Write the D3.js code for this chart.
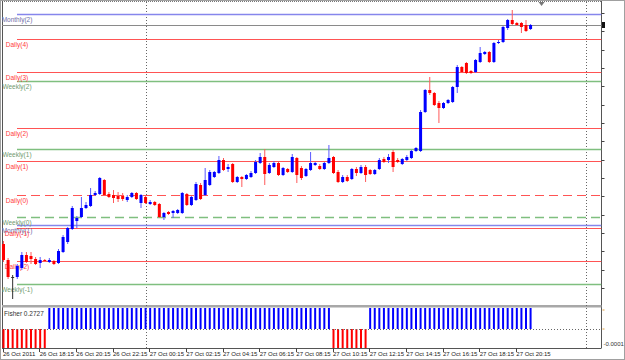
<!DOCTYPE html>
<html>
<head>
<meta charset="utf-8">
<script src="https://cdn.jsdelivr.net/npm/d3@7"></script>
<style>
   body { margin: 0; background: #fff; }
   svg { display: block; font-family: "Liberation Sans", Arial, sans-serif; }
</style>
</head>
<body>
<svg id="chart" width="625" height="360"></svg>
<script>
// 15 minute bars, 26 Oct 2011 16:15 -> 27 Oct 2011 21:00
const opens = [
   1.3958, 1.3942, 1.3925, 1.3925, 1.3934, 1.3947, 1.3946, 1.3943, 1.3939, 1.3942,
   1.3940, 1.3941, 1.3939, 1.3950, 1.3960, 1.3973, 1.3981, 1.3985, 1.3994, 1.3996,
   1.4007, 1.4008, 1.4022, 1.4008, 1.4007, 1.4006, 1.4006, 1.4002, 1.4005, 1.4009,
   1.3999, 1.4005, 1.3998, 1.4000, 1.3998, 1.3985, 1.3990, 1.3989, 1.3989, 1.3989,
   1.4008, 1.3997, 1.4002, 1.4017, 1.4007, 1.4017, 1.4025, 1.4029, 1.4042, 1.4033,
   1.4038, 1.4020, 1.4025, 1.4023, 1.4025, 1.4029, 1.4039, 1.4045, 1.4029, 1.4035,
   1.4039, 1.4027, 1.4033, 1.4030, 1.4044, 1.4034, 1.4026, 1.4032, 1.4037, 1.4036,
   1.4033, 1.4039, 1.4045, 1.4030, 1.4020, 1.4025, 1.4023, 1.4033, 1.4029, 1.4035,
   1.4032, 1.4028, 1.4033, 1.4043, 1.4042, 1.4050, 1.4042, 1.4038, 1.4042, 1.4044,
   1.4051, 1.4051, 1.4090, 1.4112, 1.4109, 1.4099, 1.4094, 1.4099, 1.4100, 1.4115,
   1.4135, 1.4139, 1.4131, 1.4130, 1.4140, 1.4148, 1.4150, 1.4140, 1.4159, 1.4160,
   1.4174, 1.4182, 1.4179, 1.4179, 1.4177, 1.4173
];
const highs = [
   1.3961, 1.3944, 1.3927, 1.3938, 1.3950, 1.3950, 1.3950, 1.3945, 1.3945, 1.3943,
   1.3944, 1.3942, 1.3953, 1.3967, 1.3975, 1.3996, 1.3986, 1.4005, 1.4000, 1.4014,
   1.4011, 1.4025, 1.4023, 1.4010, 1.4012, 1.4010, 1.4009, 1.4007, 1.4010, 1.4010,
   1.4008, 1.4007, 1.4002, 1.4001, 1.3999, 1.3990, 1.3991, 1.3992, 1.3993, 1.4010,
   1.4009, 1.4006, 1.4020, 1.4019, 1.4034, 1.4032, 1.4031, 1.4046, 1.4044, 1.4038,
   1.4039, 1.4026, 1.4026, 1.4028, 1.4031, 1.4042, 1.4049, 1.4053, 1.4039, 1.4041,
   1.4040, 1.4035, 1.4034, 1.4048, 1.4045, 1.4036, 1.4034, 1.4050, 1.4040, 1.4038,
   1.4040, 1.4057, 1.4046, 1.4032, 1.4027, 1.4027, 1.4034, 1.4035, 1.4037, 1.4037,
   1.4033, 1.4033, 1.4044, 1.4045, 1.4048, 1.4052, 1.4044, 1.4044, 1.4047, 1.4052,
   1.4055, 1.4092, 1.4113, 1.4125, 1.4110, 1.4101, 1.4100, 1.4103, 1.4116, 1.4137,
   1.4136, 1.4140, 1.4132, 1.4143, 1.4155, 1.4151, 1.4151, 1.4160, 1.4162, 1.4176,
   1.4183, 1.4192, 1.4180, 1.4180, 1.4182, 1.4178
];
const lows = [
   1.3940, 1.3923, 1.3903, 1.3923, 1.3932, 1.3939, 1.3938, 1.3937, 1.3934, 1.3940,
   1.3939, 1.3937, 1.3938, 1.3949, 1.3958, 1.3972, 1.3974, 1.3984, 1.3993, 1.3995,
   1.4006, 1.4007, 1.4006, 1.4004, 1.3999, 1.4000, 1.4001, 1.4000, 1.4004, 1.4002,
   1.3994, 1.3998, 1.3997, 1.3996, 1.3984, 1.3982, 1.3987, 1.3984, 1.3988, 1.3988,
   1.3996, 1.3996, 1.4001, 1.4002, 1.4006, 1.4016, 1.4024, 1.4028, 1.4031, 1.4030,
   1.4019, 1.4019, 1.4015, 1.4022, 1.4024, 1.4028, 1.4038, 1.4017, 1.4028, 1.4034,
   1.4026, 1.4026, 1.4029, 1.4029, 1.4019, 1.4022, 1.4025, 1.4031, 1.4036, 1.4032,
   1.4032, 1.4038, 1.4028, 1.4019, 1.4019, 1.4020, 1.4022, 1.4026, 1.4028, 1.4020,
   1.4027, 1.4027, 1.4032, 1.4039, 1.4039, 1.4030, 1.4039, 1.4037, 1.4041, 1.4043,
   1.4050, 1.4050, 1.4089, 1.4107, 1.4096, 1.4079, 1.4093, 1.4098, 1.4099, 1.4109,
   1.4129, 1.4128, 1.4128, 1.4129, 1.4139, 1.4147, 1.4139, 1.4139, 1.4158, 1.4159,
   1.4172, 1.4177, 1.4176, 1.4169, 1.4170, 1.4172
];
const closes = [
   1.3942, 1.3925, 1.3925, 1.3936, 1.3947, 1.3940, 1.3943, 1.3938, 1.3942, 1.3941,
   1.3942, 1.3938, 1.3951, 1.3965, 1.3974, 1.3994, 1.3984, 1.3994, 1.3997, 1.4007,
   1.4009, 1.4024, 1.4007, 1.4005, 1.4004, 1.4003, 1.4003, 1.4005, 1.4009, 1.4003,
   1.4007, 1.3999, 1.4000, 1.3997, 1.3985, 1.3989, 1.3988, 1.3991, 1.3992, 1.4009,
   1.3997, 1.4005, 1.4018, 1.4003, 1.4022, 1.4030, 1.4030, 1.4042, 1.4032, 1.4035,
   1.4020, 1.4025, 1.4023, 1.4027, 1.4029, 1.4040, 1.4045, 1.4028, 1.4037, 1.4039,
   1.4027, 1.4034, 1.4030, 1.4045, 1.4027, 1.4024, 1.4033, 1.4039, 1.4039, 1.4033,
   1.4039, 1.4044, 1.4029, 1.4020, 1.4025, 1.4021, 1.4033, 1.4029, 1.4035, 1.4027,
   1.4028, 1.4032, 1.4042, 1.4040, 1.4045, 1.4035, 1.4040, 1.4043, 1.4045, 1.4051,
   1.4054, 1.4090, 1.4112, 1.4109, 1.4097, 1.4094, 1.4099, 1.4102, 1.4115, 1.4135,
   1.4130, 1.4129, 1.4129, 1.4142, 1.4149, 1.4150, 1.4140, 1.4159, 1.4160, 1.4175,
   1.4182, 1.4178, 1.4177, 1.4175, 1.4171, 1.4177
];

// Fisher histogram, one value per bar
const fisher = [
   -1.12, -1.35, -1.48, -1.21, -0.94, -0.77, -0.63, -0.48, -0.31, -0.12,
   0.18, 0.47, 0.83, 1.21, 1.58, 1.86, 2.04, 2.11, 2.19, 2.25,
   2.21, 2.17, 1.94, 1.71, 1.52, 1.33, 1.18, 1.02, 0.91, 0.85,
   0.72, 0.61, 0.52, 0.44, 0.31, 0.22, 0.19, 0.24, 0.33, 0.41,
   0.52, 0.66, 0.81, 0.97, 1.08, 1.19, 1.27, 1.31, 1.25, 1.18,
   1.09, 1.02, 0.98, 0.94, 0.89, 0.86, 0.91, 0.95, 0.99, 1.03,
   0.96, 0.88, 0.79, 0.71, 0.64, 0.58, 0.52, 0.47, 0.41, 0.36,
   0.29, 0.21, -0.08, -0.21, -0.33, -0.41, -0.38, -0.29, -0.17, -0.05,
   0.12, 0.26, 0.41, 0.58, 0.73, 0.88, 0.97, 1.05, 1.14, 1.22,
   1.41, 1.72, 2.05, 2.31, 2.44, 2.51, 2.48, 2.43, 2.39, 2.47,
   2.58, 2.63, 2.57, 2.52, 2.55, 2.61, 2.56, 2.49, 2.51, 2.58,
   2.64, 2.41, 1.97, 1.38, 0.74, 0.2727
];

// pivot levels
const levelNames = ["Monthly(2)", "Daily(4)", "Daily(3)", "Weekly(2)", "Daily(2)", "Weekly(1)", "Daily(1)",
   "Daily(0)", "Weekly(0)", "Monthly(1)", "Daily(-1)", "Daily(-2)", "Weekly(-1)"];
const levelValues = [1.4188, 1.4163, 1.4130, 1.4121, 1.4074, 1.4053, 1.4041,
   1.4007, 1.3985, 1.3977, 1.3974, 1.3941, 1.3918];

// time axis
const tickBars = [0, 8, 16, 24, 32, 40, 48, 56, 64, 72, 80, 88, 96, 104, 112];
const tickLabels = ["26 Oct 2011", "26 Oct 18:15", "26 Oct 20:15", "26 Oct 22:15", "27 Oct 00:15",
   "27 Oct 02:15", "27 Oct 04:15", "27 Oct 06:15", "27 Oct 08:15", "27 Oct 10:15", "27 Oct 12:15",
   "27 Oct 14:15", "27 Oct 16:15", "27 Oct 18:15", "27 Oct 20:15"];
const dayBreaks = [31, 127];
const priceTicks = [1.4189, 1.4171, 1.4152, 1.4134, 1.4116, 1.4097, 1.4079, 1.4061,
   1.4042, 1.4024, 1.4006, 1.3987, 1.3969, 1.3951, 1.3932, 1.3914];
const fisherTicks = [0.0001, 0];

window.onload = function() {
   drawChart();
}

function drawChart() {
   let svg = d3.select("svg#chart");
   let left = 2, right = 601.5;
   let main = {top: 2, bottom: 305};
   let sub = {top: 308, bottom: 348};

   // one bar every 440/96 px
   let x = d3.scaleLinear().domain([0, 96]).range([3.5, 443.5]);
   let y = d3.scaleLinear().domain([1.3897, 1.4200]).range([main.bottom, main.top]);
   let yF = d3.scaleLinear().domain([-0.0001, 0.0001]).range([sub.bottom, 310]);

   let defs = svg.append("defs");
   defs.append("clipPath").attr("id", "mainClip").append("rect")
      .attr("x", left).attr("y", main.top).attr("width", right - left).attr("height", main.bottom - main.top);
   defs.append("clipPath").attr("id", "subClip").append("rect")
      .attr("x", left).attr("y", sub.top).attr("width", right - left).attr("height", sub.bottom - sub.top);

   // frame
   svg.append("rect").attr("x", 0.5).attr("y", 0.5).attr("width", 624).attr("height", 359)
      .attr("fill", "#fff").attr("stroke", "#a0a0a0");
   svg.append("line").attr("x1", left).attr("x2", right).attr("y1", 1.5).attr("y2", 1.5)
      .attr("stroke", "#777").attr("stroke-dasharray", "1,1");
   svg.append("line").attr("x1", left + 0.5).attr("x2", left + 0.5).attr("y1", 1).attr("y2", sub.bottom)
      .attr("stroke", "#555");
   svg.append("line").attr("x1", right).attr("x2", right).attr("y1", 1).attr("y2", sub.bottom)
      .attr("stroke", "#555");
   svg.append("line").attr("x1", left).attr("x2", right).attr("y1", sub.bottom + 0.5).attr("y2", sub.bottom + 0.5)
      .attr("stroke", "#555");
   svg.append("rect").attr("x", left).attr("y", main.bottom).attr("width", right - left).attr("height", 2.5)
      .attr("fill", "#a8a8a8");

   // day separators
   svg.append("g").selectAll("line")
      .data(dayBreaks)
      .join("line")
         .attr("x1", d => Math.round(x(d)) + 0.5).attr("x2", d => Math.round(x(d)) + 0.5)
         .attr("y1", main.top).attr("y2", sub.bottom)
         .attr("stroke", "#666").attr("stroke-dasharray", "1,2");

   // pivot lines and labels
   let levels = levelNames.map((name, i) => ({name: name, value: levelValues[i]}));
   let kind = d => d.name.replace(/\(.*$/, "");
   let lineColor = {Monthly: "#8686ec", Daily: "#ff5454", Weekly: "#7fbf7f"};
   let textColor = {Monthly: "#6e6ea8", Daily: "#ff3c3c", Weekly: "#6f9a6f"};
   let pivots = svg.append("g").attr("clip-path", "url(#mainClip)");
   pivots.selectAll("line")
      .data(levels)
      .join("line")
         .attr("x1", 17).attr("x2", right)
         .attr("y1", d => Math.round(y(d.value)) + 0.5)
         .attr("y2", d => Math.round(y(d.value)) + 0.5)
         .attr("stroke", d => lineColor[kind(d)])
         .attr("stroke-width", d => kind(d) == "Daily" ? 1 : 1.6)
         .attr("stroke-dasharray", d => d.name.indexOf("(0)") > 0 ? "9,5" : null);
   pivots.selectAll("text")
      .data(levels)
      .join("text")
         .attr("x", 17)
         .attr("y", d => y(d.value) + 7.5)
         .attr("text-anchor", "middle")
         .attr("font-size", "6.5px")
         .attr("fill", d => textColor[kind(d)])
         .text(d => d.name);

   // bid line
   let last = closes[closes.length - 1];
   svg.append("line").attr("x1", left).attr("x2", right)
      .attr("y1", Math.round(y(last)) + 0.5).attr("y2", Math.round(y(last)) + 0.5)
      .attr("stroke", "#8a8a8a");

   // candles
   let candles = opens.map((o, i) => ({i: i, o: o, h: highs[i], l: lows[i], c: closes[i]}));
   let bodyColor = d => d.c > d.o ? "#0000ff" : (d.c < d.o ? "#ff0000" : "#303030");
   let wickColor = d => d.c > d.o ? "#5a5aff" : (d.c < d.o ? "#ff5a5a" : "#303030");
   let cg = svg.append("g").attr("clip-path", "url(#mainClip)");
   cg.selectAll("line")
      .data(candles)
      .join("line")
         .attr("x1", d => x(d.i)).attr("x2", d => x(d.i))
         .attr("y1", d => y(d.h)).attr("y2", d => y(d.l))
         .attr("stroke", wickColor);
   cg.selectAll("rect")
      .data(candles)
      .join("rect")
         .attr("x", d => x(d.i) - 1.5)
         .attr("width", 3)
         .attr("y", d => y(Math.max(d.o, d.c)))
         .attr("height", d => Math.max(1, Math.abs(y(d.o) - y(d.c))))
         .attr("fill", bodyColor);

   // shift marker
   let sx = x(117.4);
   svg.append("path").attr("d", "M" + (sx - 3) + ",2 L" + (sx + 3) + ",2 L" + sx + ",6 Z").attr("fill", "#777");

   // right price axis ticks and bid marker
   svg.append("g").selectAll("line")
      .data(priceTicks)
      .join("line")
         .attr("x1", right).attr("x2", right + 3)
         .attr("y1", d => Math.round(y(d)) + 0.5).attr("y2", d => Math.round(y(d)) + 0.5)
         .attr("stroke", "#444");
   svg.append("rect").attr("x", right + 0.5).attr("y", y(last) - 3).attr("width", 3).attr("height", 6)
      .attr("fill", "#111");

   // Fisher pane
   let fg = svg.append("g").attr("clip-path", "url(#subClip)");
   fg.selectAll("rect")
      .data(fisher)
      .join("rect")
         .attr("x", (d, i) => x(i) - 1)
         .attr("width", 2)
         .attr("y", d => Math.min(yF(d), yF(0)))
         .attr("height", d => Math.abs(yF(d) - yF(0)))
         .attr("fill", d => d >= 0 ? "#0000ff" : "#ff0000");
   svg.append("line").attr("x1", left).attr("x2", right)
      .attr("y1", Math.round(yF(0)) + 0.5).attr("y2", Math.round(yF(0)) + 0.5)
      .attr("stroke", "#666").attr("stroke-dasharray", "1,2");
   svg.append("g").selectAll("line")
      .data(fisherTicks)
      .join("line")
         .attr("x1", right + 1).attr("x2", right + 3)
         .attr("y1", d => yF(d)).attr("y2", d => yF(d))
         .attr("stroke", "#e0a040");
   svg.append("text").attr("x", right + 2).attr("y", sub.bottom - 2)
      .attr("font-size", "6px").attr("fill", "#333").text("-0.0001");
   svg.append("text").attr("x", 4).attr("y", 316)
      .attr("font-size", "6.5px").attr("fill", "#333")
      .text("Fisher " + fisher[fisher.length - 1].toFixed(4));

   // time axis
   let tg = svg.append("g");
   tg.selectAll("line")
      .data(tickBars)
      .join("line")
         .attr("x1", d => Math.round(x(d)) - 0.5).attr("x2", d => Math.round(x(d)) - 0.5)
         .attr("y1", sub.bottom).attr("y2", sub.bottom + 4)
         .attr("stroke", "#444");
   tg.selectAll("text")
      .data(tickBars)
      .join("text")
         .attr("x", d => x(d) - 0.5)
         .attr("y", 356)
         .attr("font-size", "6px")
         .attr("fill", "#222")
         .text((d, i) => tickLabels[i]);
}
</script>
</body>
</html>
